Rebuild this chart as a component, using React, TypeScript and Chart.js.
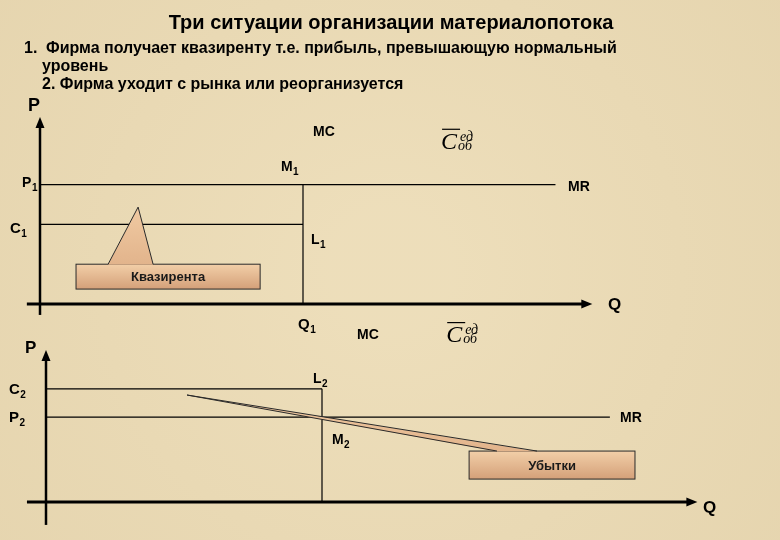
import React, { useEffect, useRef } from "react";
import { Chart, registerables } from "chart.js";
Chart.register(...registerables);

// ---------------- data (diagram units: Q = quantity, P = price) ----------------
// Panel 1 – firm earns quasi-rent
const topAxisQ = [-0.5, 21.0];
const topAxisP = [-0.55, 9.4];
const P1 = 6;
const C1 = 4;
const Q1top = 10;
const topMRQ = 19.6;
const quasiBoxQ = [1.37, 8.37];
const quasiBoxP = [0.75, 2.0];
const quasiPointerQ = [2.59, 3.73, 4.3];
const quasiPointerP = [2.0, 4.87, 2.0];

// Panel 2 – firm leaves the market (losses)
const botAxisQ = [-0.69, 23.6];
const botAxisP = [-0.81, 5.37];
const C2 = 4;
const P2 = 3;
const Q1bot = 10;
const botMRQ = 20.43;
const lossBoxQ = [15.33, 21.34];
const lossBoxP = [0.81, 1.8];
const lossPointerQ = [16.34, 5.11, 17.79];
const lossPointerP = [1.8, 3.78, 1.8];

// texts
const titleText = "Три ситуации организации материалопотока";
const line1Num = "1.";
const line1Text = "Фирма получает квазиренту т.е. прибыль, превышающую нормальный";
const line2Text = "уровень";
const line3Text = "2. Фирма уходит с рынка или реорганизуется";
const quasiText = "Квазирента";
const lossText = "Убытки";

// axis / point labels: [text, subscript, q, p, size]
const topLabels: [string, string, number, number, number][] = [
  ["P", "", -0.46, 9.7, 18],
  ["P", "1", -0.68, 5.88, 14],
  ["C", "1", -1.14, 3.57, 15],
  ["MC", "", 10.38, 8.44, 14],
  ["M", "1", 9.16, 6.68, 14],
  ["MR", "", 20.08, 5.68, 14],
  ["L", "1", 10.3, 3.02, 14],
  ["Q", "1", 9.81, -1.26, 15],
  ["Q", "", 21.6, -0.3, 17],
];
const botLabels: [string, string, number, number, number][] = [
  ["P", "", -0.76, 5.27, 17],
  ["C", "2", -1.34, 3.82, 15],
  ["P", "2", -1.34, 2.83, 15],
  ["L", "2", 9.67, 4.2, 14],
  ["M", "2", 10.36, 2.05, 14],
  ["MC", "", 11.27, 5.76, 14],
  ["MR", "", 20.8, 2.83, 14],
  ["Q", "", 23.8, -0.39, 17],
];
const topCostSymbol = [15.25, 7.8];
const botCostSymbol = [14.5, 5.65];

// ---------------- layout ----------------
const W = 780;
const H = 540;
const SANS = '"Liberation Sans", Arial, sans-serif';
const SERIF = '"Liberation Serif", "Times New Roman", serif';

function xRange(origin: number, ppu: number) {
  return { min: -origin / ppu, max: (W - origin) / ppu };
}
function yRange(origin: number, ppu: number) {
  return { min: -(H - origin) / ppu, max: origin / ppu };
}

function seg(x0: number, y0: number, x1: number, y1: number) {
  return [
    { x: x0, y: y0 },
    { x: x1, y: y1 },
  ];
}

function lineDs(data: any[], xAxisID: string, yAxisID: string, width: number) {
  return {
    data,
    xAxisID,
    yAxisID,
    showLine: true,
    borderColor: "#000",
    borderWidth: width,
    pointRadius: 0,
    fill: false,
    tension: 0,
  };
}

function drawArrow(ctx: CanvasRenderingContext2D, tx: number, ty: number, dx: number, dy: number) {
  const len = 11;
  const half = 4.5;
  const bx = tx - dx * len;
  const by = ty - dy * len;
  ctx.beginPath();
  ctx.moveTo(tx, ty);
  ctx.lineTo(bx - dy * half, by + dx * half);
  ctx.lineTo(bx + dy * half, by - dx * half);
  ctx.closePath();
  ctx.fillStyle = "#000";
  ctx.fill();
}

function drawLabel(ctx: CanvasRenderingContext2D, x: number, y: number, text: string, sub: string, size: number) {
  ctx.fillStyle = "#000";
  ctx.textAlign = "left";
  ctx.textBaseline = "alphabetic";
  ctx.font = `bold ${size}px ${SANS}`;
  ctx.fillText(text, x, y);
  if (sub) {
    const w = ctx.measureText(text).width;
    ctx.font = `bold ${Math.round(size * 0.68)}px ${SANS}`;
    ctx.fillText(sub, x + w + 0.5, y + 4);
  }
}

function drawCostSymbol(ctx: CanvasRenderingContext2D, x: number, y: number) {
  ctx.fillStyle = "#000";
  ctx.textAlign = "left";
  ctx.textBaseline = "alphabetic";
  ctx.font = `italic 24px ${SERIF}`;
  ctx.fillText("C", x, y);
  ctx.strokeStyle = "#000";
  ctx.lineWidth = 1.2;
  ctx.beginPath();
  ctx.moveTo(x + 1, y - 19.5);
  ctx.lineTo(x + 19, y - 19.5);
  ctx.stroke();
  ctx.font = `italic 14px ${SERIF}`;
  ctx.fillText("ед", x + 19, y - 8);
  ctx.fillText("об", x + 17, y + 1);
}

function drawCallout(
  ctx: CanvasRenderingContext2D,
  box: { l: number; r: number; t: number; b: number },
  ptr: { x: number; y: number }[],
  text: string
) {
  const g = ctx.createLinearGradient(0, box.t, 0, box.b);
  g.addColorStop(0, "#f2cfa8");
  g.addColorStop(1, "#d4a079");
  ctx.fillStyle = g;
  ctx.strokeStyle = "#2a2a2a";
  ctx.lineWidth = 1;
  ctx.fillRect(box.l, box.t, box.r - box.l, box.b - box.t);
  ctx.strokeRect(box.l, box.t, box.r - box.l, box.b - box.t);
  // pointer
  const pg = ctx.createLinearGradient(0, ptr[1].y, 0, box.t);
  pg.addColorStop(0, "#f0caa2");
  pg.addColorStop(1, "#e2b48c");
  ctx.beginPath();
  ctx.moveTo(ptr[0].x, ptr[0].y + 0.5);
  ctx.lineTo(ptr[1].x, ptr[1].y);
  ctx.lineTo(ptr[2].x, ptr[2].y + 0.5);
  ctx.closePath();
  ctx.fillStyle = pg;
  ctx.fill();
  ctx.beginPath();
  ctx.moveTo(ptr[0].x, ptr[0].y);
  ctx.lineTo(ptr[1].x, ptr[1].y);
  ctx.lineTo(ptr[2].x, ptr[2].y);
  ctx.stroke();
  ctx.fillStyle = "#1a1a1a";
  ctx.font = `bold 13px ${SANS}`;
  ctx.textAlign = "center";
  ctx.textBaseline = "middle";
  ctx.fillText(text, (box.l + box.r) / 2, (box.t + box.b) / 2 + 1);
}

const diagramPlugin = {
  id: "diagram",
  beforeDraw(chart: any) {
    const ctx = chart.ctx as CanvasRenderingContext2D;
    ctx.save();
    ctx.fillStyle = "#e9d9b4";
    ctx.fillRect(0, 0, W, H);
    const rg = ctx.createRadialGradient(390, 270, 60, 390, 270, 520);
    rg.addColorStop(0, "rgba(242,228,194,0.45)");
    rg.addColorStop(1, "rgba(224,206,166,0.4)");
    ctx.fillStyle = rg;
    ctx.fillRect(0, 0, W, H);
    ctx.restore();
  },
  afterDatasetsDraw(chart: any) {
    const ctx = chart.ctx as CanvasRenderingContext2D;
    const s = chart.scales;
    const tx = (v: number) => s.xT.getPixelForValue(v);
    const ty = (v: number) => s.yT.getPixelForValue(v);
    const bx = (v: number) => s.xB.getPixelForValue(v);
    const by = (v: number) => s.yB.getPixelForValue(v);
    ctx.save();

    // arrows
    drawArrow(ctx, tx(topAxisQ[1]), ty(0), 1, 0);
    drawArrow(ctx, tx(0), ty(topAxisP[1]), 0, -1);
    drawArrow(ctx, bx(botAxisQ[1]), by(0), 1, 0);
    drawArrow(ctx, bx(0), by(botAxisP[1]), 0, -1);

    // callouts
    drawCallout(
      ctx,
      { l: tx(quasiBoxQ[0]), r: tx(quasiBoxQ[1]), t: ty(quasiBoxP[1]), b: ty(quasiBoxP[0]) },
      quasiPointerQ.map((q, i) => ({ x: tx(q), y: ty(quasiPointerP[i]) })),
      quasiText
    );
    drawCallout(
      ctx,
      { l: bx(lossBoxQ[0]), r: bx(lossBoxQ[1]), t: by(lossBoxP[1]), b: by(lossBoxP[0]) },
      lossPointerQ.map((q, i) => ({ x: bx(q), y: by(lossPointerP[i]) })),
      lossText
    );

    // labels
    topLabels.forEach(([t, sub, q, p, size]) => drawLabel(ctx, tx(q), ty(p), t, sub, size));
    botLabels.forEach(([t, sub, q, p, size]) => drawLabel(ctx, bx(q), by(p), t, sub, size));
    drawCostSymbol(ctx, tx(topCostSymbol[0]), ty(topCostSymbol[1]));
    drawCostSymbol(ctx, bx(botCostSymbol[0]), by(botCostSymbol[1]));

    // title & text
    ctx.fillStyle = "#000";
    ctx.textBaseline = "alphabetic";
    ctx.textAlign = "center";
    ctx.font = `bold 20px ${SANS}`;
    ctx.fillText(titleText, 391, 29, 448);
    ctx.textAlign = "left";
    ctx.font = `bold 16px ${SANS}`;
    ctx.fillText(line1Num, 24, 53);
    ctx.fillText(line1Text, 46, 53, 572);
    ctx.fillText(line2Text, 42, 71);
    ctx.fillText(line3Text, 42, 89, 364);
    ctx.restore();
  },
};

export default function App() {
  const ref = useRef<HTMLCanvasElement>(null);
  useEffect(() => {
    if (!ref.current) return;
    const datasets = [
      // panel 1
      lineDs(seg(topAxisQ[0], 0, topAxisQ[1] - 0.3, 0), "xT", "yT", 3),
      lineDs(seg(0, topAxisP[0], 0, topAxisP[1] - 0.4), "xT", "yT", 2.5),
      lineDs(seg(0, P1, topMRQ, P1), "xT", "yT", 1.2),
      lineDs(seg(0, C1, Q1top, C1), "xT", "yT", 1.2),
      lineDs(seg(Q1top, 0, Q1top, P1), "xT", "yT", 1.2),
      // panel 2
      lineDs(seg(botAxisQ[0], 0, botAxisQ[1] - 0.3, 0), "xB", "yB", 3),
      lineDs(seg(0, botAxisP[0], 0, botAxisP[1] - 0.3), "xB", "yB", 2.5),
      lineDs(seg(0, C2, Q1bot, C2), "xB", "yB", 1.2),
      lineDs(seg(0, P2, botMRQ, P2), "xB", "yB", 1.2),
      lineDs(seg(Q1bot, 0, Q1bot, C2), "xB", "yB", 1.2),
    ];
    const hidden = { type: "linear", display: false };
    const chart = new Chart(ref.current, {
      type: "scatter",
      data: { datasets } as any,
      options: {
        animation: false,
        responsive: false,
        maintainAspectRatio: false,
        layout: { padding: 0 },
        plugins: { legend: { display: false }, tooltip: { enabled: false } },
        events: [],
        scales: {
          xT: { ...hidden, axis: "x", position: "bottom", ...xRange(40, 26.3) },
          yT: { ...hidden, axis: "y", position: "left", ...yRange(304, 19.9) },
          xB: { ...hidden, axis: "x", position: "bottom", ...xRange(46, 27.6) },
          yB: { ...hidden, axis: "y", position: "left", ...yRange(502, 28.3) },
        },
      } as any,
      plugins: [diagramPlugin],
    });
    return () => chart.destroy();
  }, []);
  return (
    <div style={{ position: "fixed", left: 0, top: 0, width: W, height: H }}>
      <canvas ref={ref} width={W} height={H} style={{ display: "block" }} />
    </div>
  );
}
